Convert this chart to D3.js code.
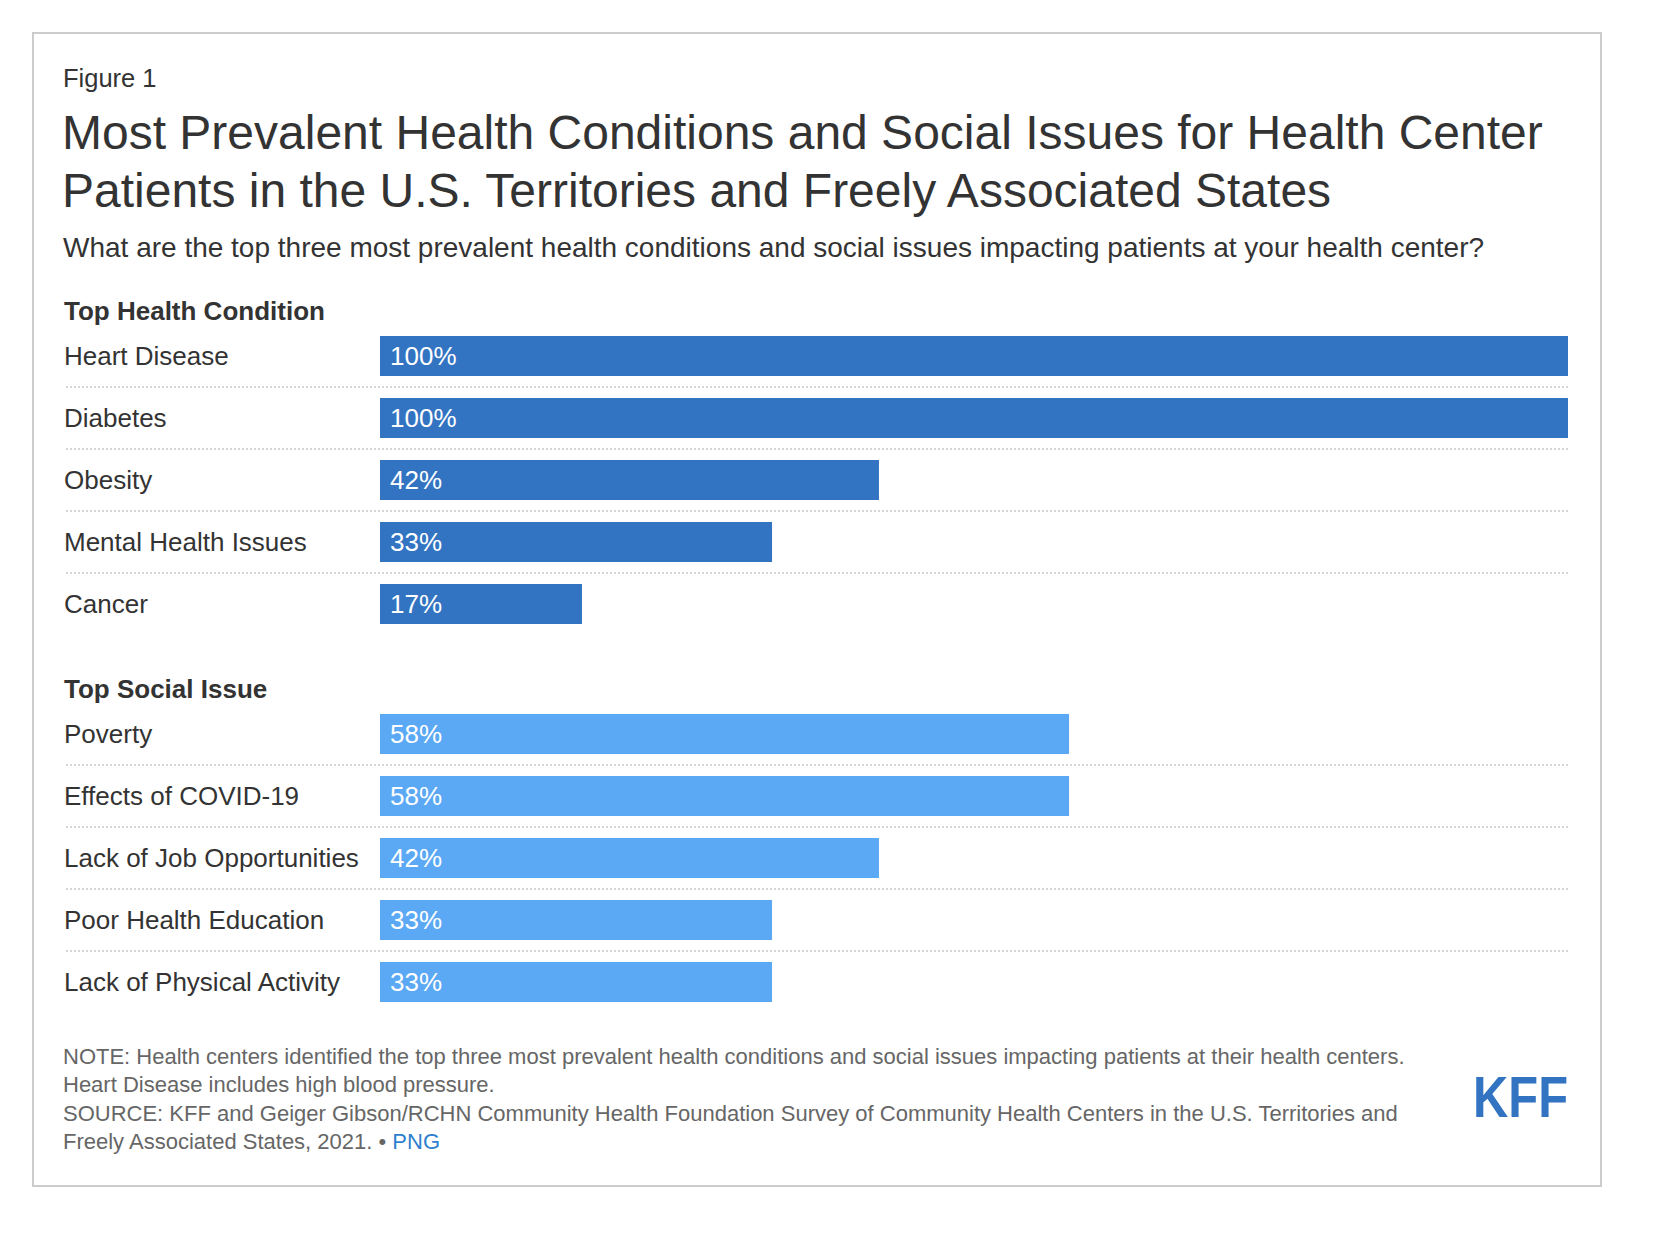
<!DOCTYPE html>
<meta charset="utf-8">
<title>Most Prevalent Health Conditions and Social Issues</title>

<!-- Load d3.js -->
<script src="https://d3js.org/d3.v7.min.js"></script>

<style>
  body { margin: 0; background: #fff; }
  text { font-family: "Liberation Sans", Arial, Helvetica, sans-serif; }
</style>

<div id="my_dataviz"></div>

<script>

// data
var healthConditions = ["Heart Disease", "Diabetes", "Obesity", "Mental Health Issues", "Cancer"];
var healthValues = [100, 100, 42, 33, 17];

var socialIssues = ["Poverty", "Effects of COVID-19", "Lack of Job Opportunities", "Poor Health Education", "Lack of Physical Activity"];
var socialValues = [58, 58, 42, 33, 33];

var noteLines = [
  "NOTE: Health centers identified the top three most prevalent health conditions and social issues impacting patients at their health centers.",
  "Heart Disease includes high blood pressure.",
  "SOURCE: KFF and Geiger Gibson/RCHN Community Health Foundation Survey of Community Health Centers in the U.S. Territories and",
  "Freely Associated States, 2021. \u2022 "
];

var width = 1658,
    height = 1254;

var svg = d3.select("#my_dataviz")
  .append("svg")
    .attr("width", width)
    .attr("height", height);

// frame
svg.append("rect")
  .attr("x", 33)
  .attr("y", 33)
  .attr("width", 1568)
  .attr("height", 1153)
  .attr("fill", "#fff")
  .attr("stroke", "#cccccc")
  .attr("stroke-width", 2);

// headings
svg.append("text")
  .attr("x", 63).attr("y", 87)
  .attr("font-size", "25.5px").attr("fill", "#333")
  .text("Figure 1");

var titleLines = ["Most Prevalent Health Conditions and Social Issues for Health Center",
                  "Patients in the U.S. Territories and Freely Associated States"];
svg.selectAll(".title")
  .data(titleLines)
  .enter()
  .append("text")
    .attr("class", "title")
    .attr("x", 62)
    .attr("y", function(d, i) { return 149 + i * 58; })
    .attr("font-size", "48px")
    .attr("fill", "#333")
    .text(function(d) { return d; });

svg.append("text")
  .attr("x", 63).attr("y", 257)
  .attr("font-size", "28px").attr("fill", "#333")
  .text("What are the top three most prevalent health conditions and social issues impacting patients at your health center?");

// shared x scale
var x = d3.scaleLinear()
  .domain([0, 100])
  .range([380, 1568]);

function drawGroup(title, cats, vals, top, color) {
  var y = d3.scaleBand()
    .domain(cats)
    .range([top, top + cats.length * 62])
    .paddingInner(22 / 62)
    .paddingOuter(11 / 62);

  var g = svg.append("g");

  g.append("text")
    .attr("x", 64).attr("y", top - 5)
    .attr("font-size", "26px")
    .attr("font-weight", "bold")
    .attr("fill", "#333")
    .text(title);

  // dotted separators (none after the last row)
  g.selectAll(".sep")
    .data(cats.slice(0, cats.length - 1))
    .enter()
    .append("line")
      .attr("x1", 66)
      .attr("x2", x(100))
      .attr("y1", function(d) { return y(d) + y.bandwidth() + 11; })
      .attr("y2", function(d) { return y(d) + y.bandwidth() + 11; })
      .attr("stroke", "#d6d6d6")
      .attr("stroke-width", 2)
      .attr("stroke-dasharray", "2,2");

  g.selectAll(".lab")
    .data(cats)
    .enter()
    .append("text")
      .attr("x", 64)
      .attr("y", function(d) { return y(d) + y.bandwidth() / 2 + 9; })
      .attr("font-size", "26px")
      .attr("fill", "#333")
      .text(function(d) { return d; });

  g.selectAll(".bar")
    .data(vals)
    .enter()
    .append("rect")
      .attr("x", x(0))
      .attr("y", function(d, i) { return y(cats[i]); })
      .attr("width", function(d) { return x(d) - x(0); })
      .attr("height", y.bandwidth())
      .attr("fill", color);

  g.selectAll(".val")
    .data(vals)
    .enter()
    .append("text")
      .attr("x", x(0) + 10)
      .attr("y", function(d, i) { return y(cats[i]) + y.bandwidth() / 2 + 9; })
      .attr("font-size", "26px")
      .attr("fill", "#fff")
      .text(function(d) { return d + "%"; });
}

drawGroup("Top Health Condition", healthConditions, healthValues, 325, "#3274c2");
drawGroup("Top Social Issue", socialIssues, socialValues, 703, "#5ba8f4");

// notes
var baselines = [1064, 1092, 1121, 1149];
var notes = svg.selectAll(".note")
  .data(noteLines)
  .enter()
  .append("text")
    .attr("class", "note")
    .attr("x", 63)
    .attr("y", function(d, i) { return baselines[i]; })
    .attr("font-size", "22px")
    .attr("fill", "#666");
notes.append("tspan").text(function(d) { return d; });
notes.filter(function(d, i) { return i === 3; })
  .append("tspan")
    .attr("fill", "#2f7fcf")
    .text("PNG");

// logo
svg.append("text")
  .attr("x", 1473).attr("y", 1117)
  .attr("font-size", "58px")
  .attr("font-weight", "bold")
  .attr("fill", "#3274c2")
  .attr("textLength", 95)
  .attr("lengthAdjust", "spacingAndGlyphs")
  .text("KFF");

</script>
